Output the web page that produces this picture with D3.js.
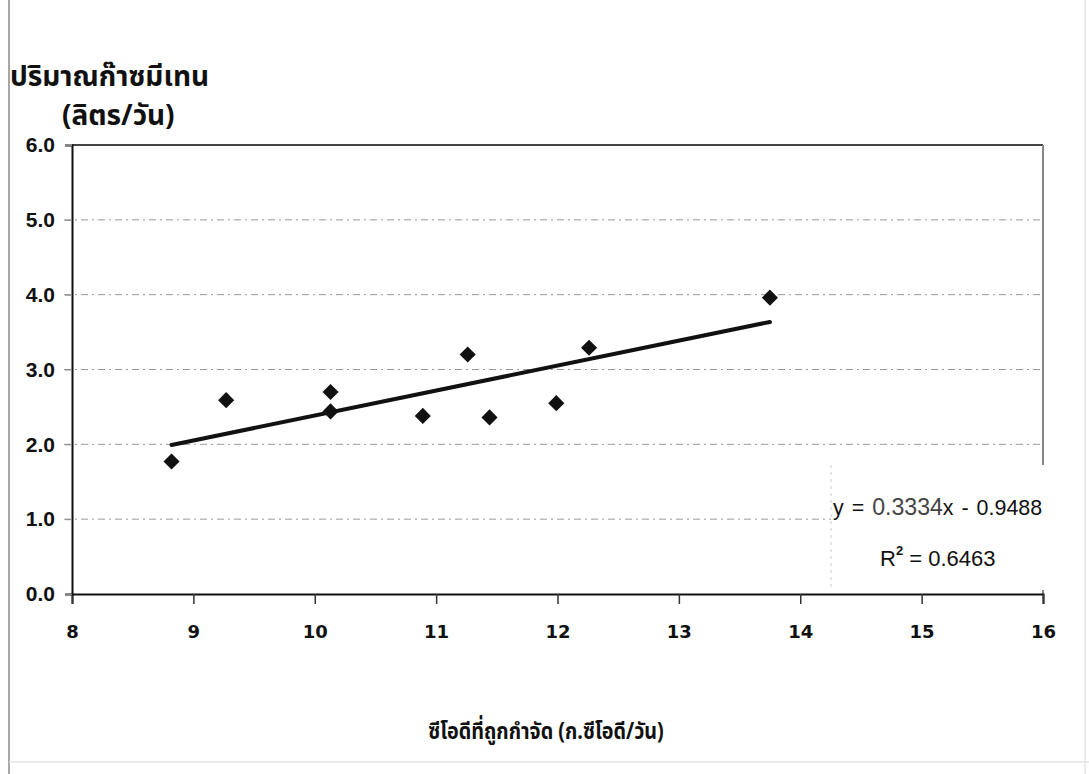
<!DOCTYPE html>
<html>
<head>
<meta charset="utf-8">
<script src="https://cdn.jsdelivr.net/npm/d3@7/dist/d3.min.js"></script>
<style>
  html, body { margin: 0; padding: 0; background: #fff; }
  svg { display: block; }
</style>
</head>
<body>
<svg id="chart" width="1089" height="774"></svg>
<script>
// COD removed (g COD/day) vs methane produced (L/day)
const codRemoved = [8.82, 9.27, 10.13, 10.13, 10.89, 11.26, 11.44, 11.99, 12.26, 13.75];
const methane    = [1.77, 2.59, 2.70, 2.44, 2.38, 3.20, 2.36, 2.55, 3.29, 3.96];

// Linear trend reported on the chart
const trendSlope = 0.3334;
const trendIntercept = -0.9488;
const rSquared = 0.6463;

const xTicks = [8, 9, 10, 11, 12, 13, 14, 15, 16];
const yTicks = [0, 1, 2, 3, 4, 5, 6];

const yTitle1 = "ปริมาณก๊าซมีเทน";
const yTitle2 = "(ลิตร/วัน)";
const xTitle = "ซีโอดีที่ถูกกำจัด (ก.ซีโอดี/วัน)";

const thaiFont = "'Noto Sans Thai', 'Tahoma', 'Loma', 'Garuda', 'DejaVu Sans', sans-serif";
const latinFont = "'Liberation Sans', Arial, sans-serif";

const svg = d3.select("#chart");

const x = d3.scaleLinear().domain([8, 16]).range([72, 1043]);
const y = d3.scaleLinear().domain([0, 6]).range([594, 145]);

// page edges
svg.append("line").attr("x1", 9).attr("x2", 9).attr("y1", 0).attr("y2", 774)
  .attr("stroke", "#8a8a8a").attr("stroke-width", 1.5);
svg.append("line").attr("x1", 1085).attr("x2", 1085).attr("y1", 0).attr("y2", 774)
  .attr("stroke", "#d8d8d8").attr("stroke-width", 1);
svg.append("line").attr("x1", 9).attr("x2", 1089).attr("y1", 762).attr("y2", 762)
  .attr("stroke", "#e4e4e4").attr("stroke-width", 1.5);

// horizontal gridlines
svg.append("g").selectAll("line")
  .data(yTicks.filter(d => d > 0 && d < 6))
  .join("line")
  .attr("x1", 64).attr("x2", x(16))
  .attr("y1", d => y(d)).attr("y2", d => y(d))
  .attr("stroke", "#999").attr("stroke-width", 1)
  .attr("stroke-dasharray", "7,4,2,4");

// frame top and right
svg.append("line").attr("x1", x(8)).attr("x2", x(16)).attr("y1", y(6)).attr("y2", y(6))
  .attr("stroke", "#444").attr("stroke-width", 2);
svg.append("line").attr("x1", x(16)).attr("x2", x(16)).attr("y1", y(6)).attr("y2", y(0))
  .attr("stroke", "#888").attr("stroke-width", 2);

// axes
const xAxis = d3.axisBottom(x).tickValues(xTicks).tickSize(10).tickFormat(d3.format("d"));
const gx = svg.append("g").attr("transform", `translate(0,${y(0)})`).call(xAxis);
gx.select(".domain").attr("stroke", "#111").attr("stroke-width", 2);
gx.selectAll(".tick line").attr("stroke", "#333").attr("stroke-width", 1.5);
gx.selectAll(".tick text")
  .attr("y", 31).attr("dy", "0.71em")
  .attr("fill", "#111")
  .style("font-family", "'DejaVu Sans', sans-serif")
  .style("font-weight", "bold")
  .style("font-size", "18px");

const yAxis = d3.axisLeft(y).tickValues(yTicks).tickSize(7).tickFormat(d3.format(".1f"));
const gy = svg.append("g").attr("transform", `translate(${x(8)},0)`).call(yAxis);
gy.select(".domain").attr("stroke", "#111").attr("stroke-width", 2);
gy.selectAll(".tick line").attr("stroke", "#888").attr("stroke-width", 1);
gy.selectAll(".tick text")
  .attr("x", -17)
  .attr("fill", "#111")
  .style("font-family", latinFont)
  .style("font-weight", "bold")
  .style("font-size", "21px");

// trend line across the observed range
const xr = d3.extent(codRemoved);
svg.append("line")
  .attr("x1", x(xr[0])).attr("y1", y(trendSlope * xr[0] + trendIntercept))
  .attr("x2", x(xr[1])).attr("y2", y(trendSlope * xr[1] + trendIntercept))
  .attr("stroke", "#111").attr("stroke-width", 4).attr("stroke-linecap", "round");

// data markers
const diamond = d3.symbol().type(d3.symbolSquare).size(130);
svg.append("g").selectAll("path")
  .data(codRemoved.map((v, i) => [v, methane[i]]))
  .join("path")
  .attr("d", diamond)
  .attr("transform", d => `translate(${x(d[0])},${y(d[1])}) rotate(45)`)
  .attr("fill", "#111");

// equation label box
svg.append("rect")
  .attr("x", 831).attr("y", 465).attr("width", x(16) - 830).attr("height", 125)
  .attr("fill", "#fff");
svg.append("line").attr("x1", 831).attr("x2", 831).attr("y1", 465).attr("y2", 590)
  .attr("stroke", "#ccc").attr("stroke-width", 1).attr("stroke-dasharray", "3,4");

// size a text element so that it spans the given width
function fitWidth(sel, width) {
  const w = sel.node().getBBox().width;
  const fs = parseFloat(sel.style("font-size"));
  if (w > 0) sel.style("font-size", (fs * width / w).toFixed(2) + "px");
}

const eq = svg.append("text")
  .attr("x", 833).attr("y", 515)
  .attr("fill", "#111")
  .style("font-family", latinFont)
  .style("font-size", "22px")
  .style("word-spacing", "2px");
eq.append("tspan").text("y = ");
eq.append("tspan").attr("fill", "#444").style("font-size", "1.08em").text(trendSlope.toFixed(4));
eq.append("tspan").text(`x - ${Math.abs(trendIntercept).toFixed(4)}`);
fitWidth(eq, x(16) - 834);

const r2 = svg.append("text")
  .attr("x", 880).attr("y", 566)
  .attr("fill", "#111")
  .style("font-family", latinFont)
  .style("font-size", "22px");
r2.append("tspan").text("R");
r2.append("tspan").attr("dy", -11).style("font-size", "13px").style("font-weight", "bold").text("2");
r2.append("tspan").attr("dy", 11).text(` = ${rSquared.toFixed(4)}`);

// titles
svg.append("text").attr("x", 10).attr("y", 86)
  .style("font-family", thaiFont).style("font-weight", "bold").style("font-size", "28px")
  .attr("fill", "#111").text(yTitle1);
svg.append("text").attr("x", 62).attr("y", 125)
  .style("font-family", thaiFont).style("font-weight", "bold").style("font-size", "28px")
  .attr("fill", "#111").text(yTitle2);
svg.append("text")
  .attr("transform", "translate(546,739) scale(0.86,1)")
  .attr("text-anchor", "middle")
  .style("font-family", thaiFont).style("font-weight", "bold").style("font-size", "23px")
  .attr("fill", "#111").text(xTitle);
</script>
</body>
</html>
